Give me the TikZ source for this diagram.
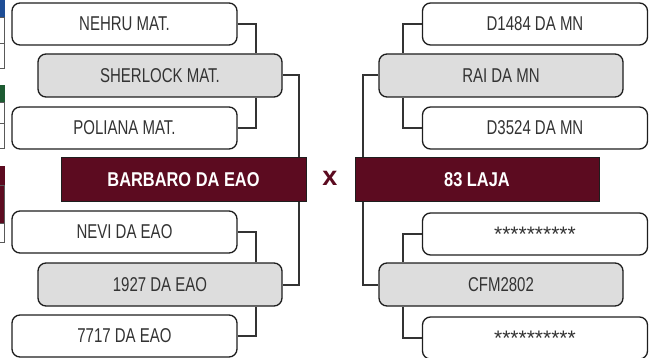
\documentclass[tikz,border=0pt]{standalone}
\usepackage{fontspec}
\setmainfont{Liberation Sans}[FakeStretch=0.75,BoldFeatures={FakeStretch=0.82}]
\newfontfamily\starfont{Liberation Sans}
\definecolor{wine}{HTML}{5C0B20}
\definecolor{boxgray}{HTML}{DDDDDD}
\definecolor{txt}{HTML}{333333}
\definecolor{edge}{HTML}{1E1E1E}
\definecolor{blueteam}{HTML}{1F4E96}
\definecolor{greenteam}{HTML}{1D5B32}
\tikzset{
  x=1pt,y=-1pt,
  teambox/.style={draw=edge,line width=1.3pt,rounded corners=8pt,fill=white,
    minimum width=225pt,minimum height=42pt,inner sep=0pt,text=txt,
    font=\fontsize{20}{22}\selectfont},
  semibox/.style={teambox,fill=boxgray,minimum width=244pt,minimum height=43pt},
  finalbox/.style={draw=edge,line width=1pt,fill=wine,minimum width=245pt,
    minimum height=44pt,inner sep=0pt,text=white,
    font=\fontsize{20}{22}\selectfont\bfseries},
  link/.style={draw=txt,line width=2pt},
  stub/.style={draw=gray!70!black,line width=0.8pt},
}
\begin{document}
\begin{tikzpicture}
\useasboundingbox (0,0) rectangle (656,358);
% cut-off boxes at the left edge
\fill[blueteam] (-5,-2) rectangle (4.5,17);
\draw[stub,fill=white] (-5,17) rectangle (4.5,43);
\draw[stub,fill=white] (-5,43) rectangle (4.5,68);
\fill[greenteam] (-5,85) rectangle (4.5,102);
\draw[stub,fill=white] (-5,102) rectangle (4.5,123);
\draw[stub,fill=white] (-5,123) rectangle (4.5,148);
\fill[wine] (-5,166) rectangle (4.5,185);
\draw[stub,fill=wine] (-5,185) rectangle (4.5,223);
\draw[stub,fill=white] (-5,223) rectangle (4.5,242);

% left bracket
\node[teambox] (nehru) at (124.5,24) {NEHRU MAT.};
\node[semibox] (sherlock) at (160,75.5) {SHERLOCK MAT.};
\node[teambox] (poliana) at (124.5,128) {POLIANA MAT.};
\node[finalbox] (barbaro) at (183.5,180) {BARBARO DA EAO};
\node[teambox] (nevi) at (124.5,232) {NEVI DA EAO};
\node[semibox] (e1927) at (160,284.5) {1927 DA EAO};
\node[teambox] (e7717) at (124.5,336) {7717 DA EAO};

% right bracket
\node[teambox] (d1484) at (535,24) {D1484 DA MN};
\node[semibox] (rai) at (501,75.5) {RAI DA MN};
\node[teambox] (d3524) at (535,128) {D3524 DA MN};
\node[finalbox,minimum width=244pt] (laja) at (477,180) {83 LAJA};
\node[teambox,font=\starfont\fontsize{21}{22}\selectfont] (star1) at (535,234) {**********};
\node[semibox] (cfm) at (501,284.5) {CFM2802};
\node[teambox,font=\starfont\fontsize{21}{22}\selectfont] (star2) at (535,338) {**********};

\node[text=wine,font=\starfont\fontsize{27}{28}\selectfont\bfseries] (vs) at (330,178) {x};

% connectors left
\draw[link] (nehru.east) -| (256,0 |- sherlock.north);
\draw[link] (poliana.east) -| (256,0 |- sherlock.south);
\draw[link] (sherlock.east) -| (299,0 |- barbaro.north);
\draw[link] (barbaro.south -| 299,0) |- (e1927.east);
\draw[link] (nevi.east) -| (256,0 |- e1927.north);
\draw[link] (e7717.east) -| (256,0 |- e1927.south);
% connectors right
\draw[link] (d1484.west) -| (403,0 |- rai.north);
\draw[link] (d3524.west) -| (403,0 |- rai.south);
\draw[link] (rai.west) -| (363,0 |- laja.north);
\draw[link] (laja.south -| 363,0) |- (cfm.west);
\draw[link] (star1.west) -| (403,0 |- cfm.north);
\draw[link] (star2.west) -| (403,0 |- cfm.south);
\end{tikzpicture}
\end{document}
